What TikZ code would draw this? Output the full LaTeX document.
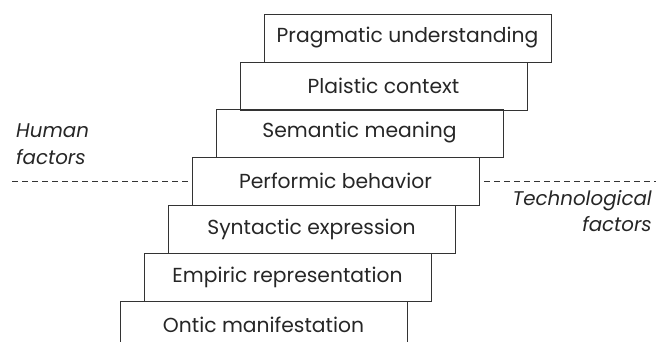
\documentclass[tikz,border=0pt]{standalone}
\usepackage{fontspec}
\setmainfont{Poppins}
\begin{document}
\begin{tikzpicture}[x=1pt,y=-1pt,
  layer/.style={draw=black!80,line width=0.9pt,minimum width=287pt,minimum height=48pt,
    inner sep=0pt,text=black!85,font=\fontsize{20.3}{24}\selectfont},
  factor/.style={text=black!85,font=\fontsize{19.8}{26.5}\selectfont\itshape,inner sep=0pt},
  divider/.style={draw=black!80,line width=0.8pt,dash pattern=on 6pt off 4pt}]
\useasboundingbox (0,0) rectangle (657,342);
\clip (0,0) rectangle (657,342);
% stacked layers, each shifted right and up by one step
\node[layer] (ontic) at (263.5,325) {Ontic manifestation};
\node[layer] (empiric) at (287.5,277) {Empiric representation};
\node[layer] (syntactic) at (311.5,229) {Syntactic expression};
\node[layer] (performic) at (335.5,181) {Performic behavior};
\node[layer] (semantic) at (359.5,133) {Semantic meaning};
\node[layer] (plaistic) at (383.5,86) {Plaistic context};
\node[layer] (pragmatic) at (407.5,38) {Pragmatic understanding};
% boundary between human and technological factors
\coordinate (hl) at (12,181);
\coordinate (hr) at (656,181);
\draw[divider] (hl) -- (performic.west);
\draw[divider] (performic.east) ++(5,0) -- (hr);
\node[factor,anchor=north west,align=left] (human) at (16,124) {Human\\factors};
\node[factor,anchor=north east,align=right] (techno) at (652,190) {Technological\\factors};
\end{tikzpicture}
\end{document}
